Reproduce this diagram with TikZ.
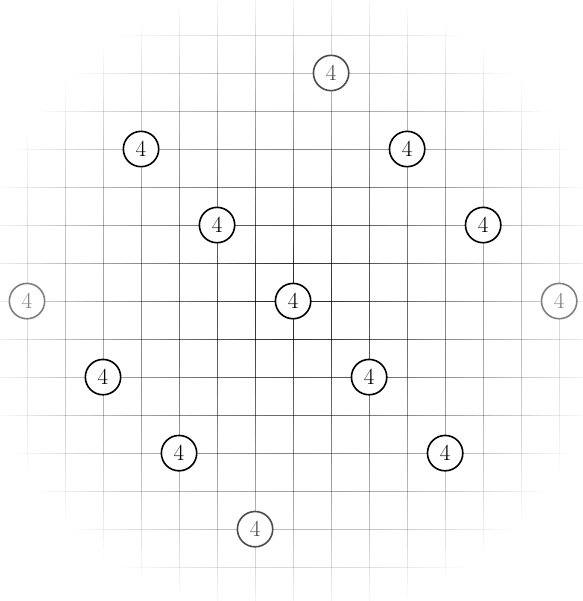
\documentclass[tikz,border=0pt]{standalone}
\tikzset{
  gridline/.style={black,line width=0.7pt},
  num/.style={circle,draw,fill=white,line width=1.2pt,minimum size=9.3mm,inner sep=0pt,font=\LARGE},
  faint/.style={num,draw=black!70,text=black!70},
  fainter/.style={num,draw=black!50,text=black!50}
}

\begin{document}
\begin{tikzpicture}
  \useasboundingbox (-7.71,-7.89) rectangle (7.61,7.92);
  % lattice, fading out with the distance from the centre
  \foreach \i in {-8,...,8}
    \foreach \s in {-8,-7.75,...,7.75} {
      \pgfmathsetmacro\op{max(0,0.9*(1-veclen(\i,\s+0.125)/8.4))}
      \ifdim\op pt>0.005pt
        \draw[gridline,opacity=\op] (\i,\s) -- (\i,\s+0.25);
        \draw[gridline,opacity=\op] (\s,\i) -- (\s+0.25,\i);
      \fi
    }
  % entries
  \node[num] (centre) at (0,0) {4};
  \node[num] (ul) at (-2,2) {4};
  \node[num] (ull) at (-4,4) {4};
  \node[num] (ur) at (3,4) {4};
  \node[num] (urr) at (5,2) {4};
  \node[num] (dl) at (-5,-2) {4};
  \node[num] (dr) at (2,-2) {4};
  \node[num] (dll) at (-3,-4) {4};
  \node[num] (drr) at (4,-4) {4};
  \node[faint] (top) at (1,6) {4};
  \node[faint] (bottom) at (-1,-6) {4};
  \node[fainter] (left) at (-7,0) {4};
  \node[fainter] (right) at (7,0) {4};
\end{tikzpicture}
\end{document}
